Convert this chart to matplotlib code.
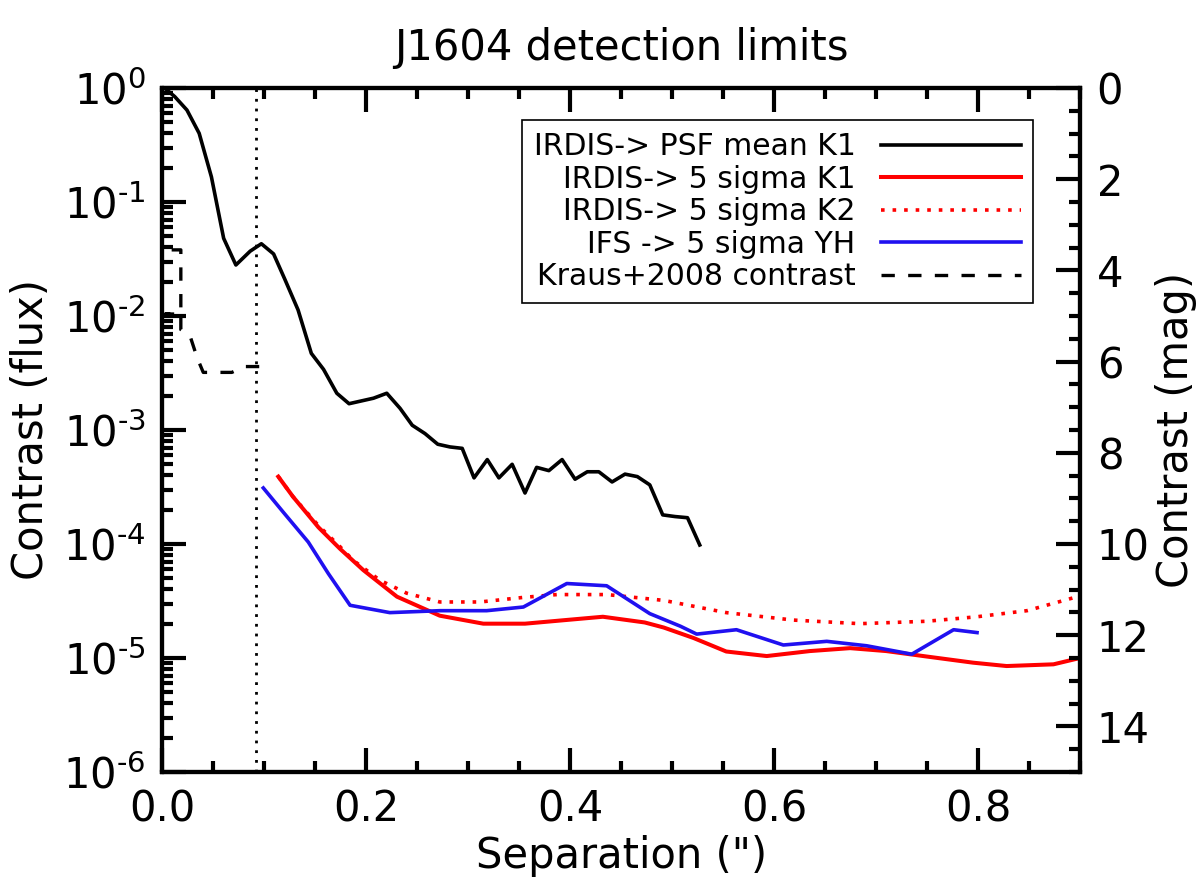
import numpy as np
import matplotlib
matplotlib.use('Agg')
import matplotlib.pyplot as plt
import matplotlib.ticker as ticker

plt.rcParams['font.family'] = ['DejaVu Sans']
plt.rcParams['mathtext.fontset'] = 'dejavusans'

# PSF mean K1 (IRDIS)
psf_sep = [0.002, 0.012, 0.024, 0.036, 0.048, 0.060, 0.072, 0.086, 0.097, 0.109,
           0.120, 0.133, 0.146, 0.158, 0.171, 0.183, 0.207, 0.220, 0.233, 0.245,
           0.2575, 0.270, 0.282, 0.294, 0.3056, 0.3186, 0.330, 0.343, 0.3556, 0.367,
           0.379, 0.392, 0.4047, 0.4167, 0.428, 0.441, 0.4537, 0.4658, 0.478, 0.4907,
           0.5028, 0.515, 0.527]
psf_con = [1.0, 0.84, 0.64, 0.40, 0.166, 0.048, 0.028, 0.037, 0.043, 0.035,
           0.021, 0.0113, 0.0047, 0.0034, 0.0021, 0.0017, 0.0019, 0.0021, 0.00155, 0.0011,
           0.00093, 0.00075, 0.00071, 0.00069, 0.00038, 0.00055, 0.00038, 0.0005, 0.00028, 0.00047,
           0.00044, 0.00055, 0.00037, 0.00043, 0.00043, 0.00035, 0.00041, 0.00039, 0.00033, 0.00018,
           0.000174, 0.00017, 0.000098]

# IRDIS 5 sigma K1
k1_sep = [0.1136, 0.128, 0.153, 0.174, 0.197, 0.230, 0.272, 0.3147, 0.3556, 0.395,
          0.432, 0.473, 0.4917, 0.5207, 0.553, 0.5927, 0.635, 0.6745, 0.710, 0.7497,
          0.795, 0.828, 0.874, 0.9]
k1_con = [3.9e-4, 2.6e-4, 1.4e-4, 9.1e-5, 5.9e-5, 3.45e-5, 2.35e-5, 2.0e-5, 2.0e-5, 2.15e-5,
          2.3e-5, 2.05e-5, 1.85e-5, 1.5e-5, 1.14e-5, 1.04e-5, 1.15e-5, 1.22e-5, 1.15e-5, 1.03e-5,
          9.1e-6, 8.5e-6, 8.8e-6, 1.0e-5]

# IRDIS 5 sigma K2
k2_sep = [0.1136, 0.128, 0.153, 0.174, 0.187, 0.2134, 0.2396, 0.272, 0.3115, 0.354,
          0.387, 0.436, 0.4917, 0.553, 0.619, 0.684, 0.7497, 0.799, 0.848, 0.9]
k2_con = [3.9e-4, 2.6e-4, 1.45e-4, 9.5e-5, 7.2e-5, 4.8e-5, 3.7e-5, 3.1e-5, 3.1e-5, 3.4e-5,
          3.6e-5, 3.6e-5, 3.2e-5, 2.5e-5, 2.15e-5, 2.0e-5, 2.1e-5, 2.3e-5, 2.6e-5, 3.5e-5]

# IFS 5 sigma YH
ifs_sep = [0.0989, 0.1185, 0.143, 0.1627, 0.184, 0.223, 0.272, 0.318, 0.354, 0.3966,
           0.4357, 0.478, 0.508, 0.524, 0.563, 0.609, 0.6516, 0.6907, 0.735, 0.776, 0.799]
ifs_con = [3.1e-4, 1.9e-4, 1.04e-4, 5.5e-5, 2.9e-5, 2.5e-5, 2.6e-5, 2.6e-5, 2.8e-5, 4.5e-5,
           4.3e-5, 2.45e-5, 1.9e-5, 1.62e-5, 1.77e-5, 1.3e-5, 1.4e-5, 1.28e-5, 1.08e-5, 1.77e-5, 1.67e-5]

# Kraus+2008
kraus_sep = [0.009, 0.018, 0.018, 0.003, 0.018, 0.018, 0.027, 0.034, 0.040, 0.054,
             0.068, 0.081, 0.105]
kraus_con = [0.038, 0.038, 0.0104, 0.0104, 0.0104, 0.0076, 0.0067, 0.0043, 0.0032, 0.0032,
             0.0032, 0.0036, 0.0036]

iwa = 0.0914

fs = 30
fig = plt.figure(figsize=(12, 8.93), dpi=100)
ax = fig.add_axes([0.1354, 0.1355, 0.9 - 0.1354, 0.9015 - 0.1355])

ax.plot(psf_sep, psf_con, color='k', lw=2.6, label='IRDIS-> PSF mean K1')
ax.plot(k1_sep, k1_con, color='red', lw=2.9, label='IRDIS-> 5 sigma K1')
ax.plot(k2_sep, k2_con, color='red', lw=2.6, linestyle=(0, (1, 2.2)), label='IRDIS-> 5 sigma K2')
ax.plot(ifs_sep, ifs_con, color='#2010f0', lw=2.6, label='IFS -> 5 sigma YH')
ax.plot(kraus_sep, kraus_con, color='k', lw=2.4, linestyle=(0, (4.0, 4.0)), label='Kraus+2008 contrast')
ax.axvline(iwa, color='k', lw=2.0, linestyle=(0, (1, 2.5)))

ax.set_yscale('log')
ax.set_xlim(0, 0.9)
ax.set_ylim(1e-6, 1)

ax.xaxis.set_major_locator(ticker.FixedLocator([0, 0.2, 0.4, 0.6, 0.8]))
ax.xaxis.set_minor_locator(ticker.MultipleLocator(0.05))
ax.xaxis.set_major_formatter(ticker.FormatStrFormatter('%.1f'))
ax.yaxis.set_major_locator(ticker.LogLocator(base=10, numticks=10))
ax.yaxis.set_minor_locator(ticker.LogLocator(base=10, subs=np.arange(2, 10), numticks=10))
ax.yaxis.set_major_formatter(ticker.FuncFormatter(
    lambda v, p: r'$\mathregular{10^{\text{-}%d}}$' % abs(int(round(np.log10(v))))
    if v < 0.5 else r'$\mathregular{10^{0}}$'))
ax.yaxis.set_minor_formatter(ticker.NullFormatter())

ax.tick_params(axis='both', which='major', direction='in', length=17, width=3,
               labelsize=fs, pad=12, top=True, right=False)
ax.tick_params(axis='both', which='minor', direction='in', length=8, width=3,
               top=True, right=False)
for s in ax.spines.values():
    s.set_linewidth(3)

ax.set_xlabel('Separation (")', fontsize=fs, labelpad=3)
ax.set_ylabel('Contrast (flux)', fontsize=fs, labelpad=8)
ax.set_title('J1604 detection limits', fontsize=fs, pad=20)

# magnitude axis on the right
ax2 = ax.twinx()
ax2.set_ylim(15, 0)
ax2.yaxis.set_major_locator(ticker.MultipleLocator(2))
ax2.yaxis.set_minor_locator(ticker.MultipleLocator(0.5))
ax2.tick_params(axis='y', which='major', direction='in', length=17, width=3,
                labelsize=fs, pad=12)
ax2.tick_params(axis='y', which='minor', direction='in', length=8, width=3)
ax2.set_ylabel('Contrast (mag)', fontsize=fs, labelpad=4)
for s in ax2.spines.values():
    s.set_linewidth(3)

leg = ax.legend(loc='upper right', bbox_to_anchor=(0.949, 0.953), borderaxespad=0,
                fontsize=21.5, markerfirst=False, handlelength=4.7, handletextpad=0.85,
                labelspacing=0.12, borderpad=0.4, fancybox=False, framealpha=1,
                edgecolor='k')
leg.get_frame().set_linewidth(1.2)

fig.savefig('out.png', dpi=100)
